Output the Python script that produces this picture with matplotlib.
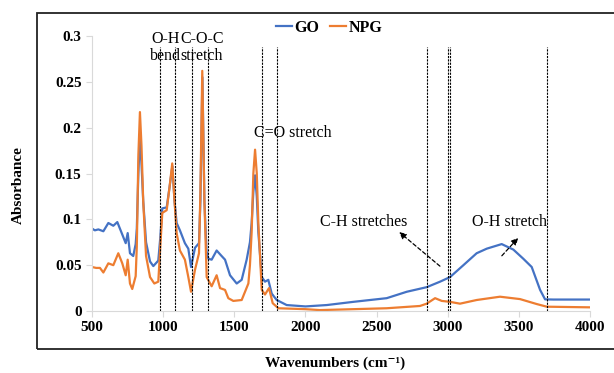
import matplotlib
matplotlib.use('Agg')
import matplotlib.pyplot as plt
from matplotlib.patches import Rectangle

# GO spectrum
go_wn = [500, 520, 545, 580, 615, 650, 678, 709, 737, 751, 767, 790, 807, 815,
         826, 837, 848, 860, 880, 908, 931, 966, 980, 994, 1025, 1045, 1065,
         1080, 1095, 1118, 1153, 1177, 1196, 1224, 1252, 1262, 1276, 1290, 1305,
         1318, 1341, 1376, 1411, 1435, 1470, 1517, 1552, 1587, 1610, 1622, 1634,
         1646, 1658, 1669, 1693, 1716, 1739, 1763, 1798, 1868, 2000, 2150, 2337,
         2571, 2712, 2852, 2946, 3016, 3110, 3203, 3274, 3379, 3461, 3531, 3590,
         3649, 3684, 3742, 4000]
go_abs = [0.090, 0.088, 0.089, 0.087, 0.096, 0.093, 0.097, 0.085, 0.074, 0.085,
          0.063, 0.060, 0.073, 0.090, 0.150, 0.190, 0.160, 0.120, 0.075, 0.054,
          0.049, 0.055, 0.080, 0.112, 0.113, 0.135, 0.158, 0.120, 0.096, 0.088,
          0.074, 0.068, 0.048, 0.069, 0.074, 0.120, 0.255, 0.120, 0.065, 0.057,
          0.056, 0.066, 0.060, 0.056, 0.039, 0.030, 0.034, 0.056, 0.075, 0.096,
          0.130, 0.148, 0.125, 0.086, 0.037, 0.032, 0.034, 0.019, 0.012, 0.0065,
          0.005, 0.0065, 0.010, 0.014, 0.021, 0.026, 0.032, 0.037, 0.050, 0.063,
          0.068, 0.073, 0.067, 0.057, 0.048, 0.023, 0.0127, 0.0125, 0.0125]

# NPG spectrum
npg_wn = [500, 530, 556, 580, 615, 650, 685, 713, 737, 751, 767, 783, 807, 815,
          826, 837, 848, 860, 880, 908, 938, 966, 980, 994, 1025, 1045, 1064,
          1080, 1095, 1118, 1153, 1177, 1196, 1224, 1252, 1262, 1275, 1290, 1306,
          1341, 1376, 1400, 1435, 1458, 1493, 1552, 1599, 1610, 1622, 1634, 1646,
          1658, 1669, 1693, 1716, 1744, 1770, 1810, 2000, 2102, 2337, 2571, 2805,
          2852, 2911, 2958, 3016, 3086, 3203, 3367, 3508, 3625, 3696, 4000]
npg_abs = [0.048, 0.047, 0.047, 0.042, 0.052, 0.050, 0.063, 0.052, 0.039, 0.056,
           0.030, 0.024, 0.038, 0.070, 0.170, 0.217, 0.180, 0.120, 0.060, 0.037,
           0.030, 0.032, 0.070, 0.107, 0.110, 0.135, 0.161, 0.120, 0.085, 0.066,
           0.056, 0.037, 0.021, 0.045, 0.063, 0.130, 0.262, 0.120, 0.037, 0.027,
           0.039, 0.025, 0.023, 0.014, 0.011, 0.012, 0.030, 0.050, 0.086, 0.150,
           0.176, 0.150, 0.096, 0.023, 0.018, 0.025, 0.0085, 0.003, 0.002, 0.001,
           0.002, 0.003, 0.0055, 0.008, 0.014, 0.011, 0.010, 0.008, 0.012, 0.0156,
           0.013, 0.0076, 0.0047, 0.004]

# band markers
band_lines = [978, 1081, 1200, 1318, 1697, 1800, 2857, 3002, 3014, 3696]

plt.rcParams['font.family'] = ['Liberation Serif', 'DejaVu Serif']

fig = plt.figure(figsize=(6.14, 3.73), dpi=100)
ax = fig.add_axes([0.1498, 0.1662, 0.8112, 0.7373])

# outer frame, right side runs off the image
fig.patches.append(Rectangle((37 / 614, 1 - 349 / 373), 1.5, 336 / 373,
                             transform=fig.transFigure, fill=False,
                             edgecolor='#222222', linewidth=1.3))

ax.plot(go_wn, go_abs, color='#4472C4', lw=1.6, label='GO')
ax.plot(npg_wn, npg_abs, color='#ED7D31', lw=1.6, label='NPG')

for wn in band_lines:
    ax.plot([wn, wn], [0, 0.288], color='black', lw=0.8, ls=(0, (2, 1)))

ax.set_xlim(500, 4000)
ax.set_ylim(0, 0.3)
ax.set_xticks(range(500, 4001, 500))
ax.set_yticks([0, 0.05, 0.1, 0.15, 0.2, 0.25, 0.3])
ax.set_yticklabels(['0', '0.05', '0.1', '0.15', '0.2', '0.25', '0.3'])
for s in ['top', 'right']:
    ax.spines[s].set_visible(False)
for s in ['left', 'bottom']:
    ax.spines[s].set_color('#D9D9D9')
ax.tick_params(colors='#D9D9D9', length=4, labelcolor='black', labelsize=11)
for lbl in ax.get_xticklabels() + ax.get_yticklabels():
    lbl.set_fontweight('bold')

fig.text(18 / 614, 1 - 185 / 373, 'Absorbance', rotation=90, ha='center',
         va='center', fontsize=11, fontweight='bold')
fig.text(335 / 614, 1 - 363 / 373, 'Wavenumbers (cm⁻¹)',
         ha='center', va='center', fontsize=11, fontweight='bold')

ax.legend(loc='center', bbox_to_anchor=(329 / 614, 1 - 28 / 373),
          bbox_transform=fig.transFigure, ncol=2, frameon=False,
          handlelength=1.0, handletextpad=0.15, columnspacing=0.7,
          prop={'weight': 'bold', 'size': 11.5})

ax.text(1017, 0.305, 'O-H\nbend', ha='center', va='top', fontsize=11.5,
        linespacing=1.05)
ax.text(1273, 0.305, 'C-O-C\nstretch', ha='center', va='top', fontsize=11.5,
        linespacing=1.05)
ax.text(1641, 0.194, 'C=O stretch', ha='left', va='center', fontsize=11.5)
ax.text(2102, 0.0974, 'C-H stretches', ha='left', va='center', fontsize=11.5)
ax.text(3431, 0.0974, 'O-H stretch', ha='center', va='center', fontsize=11.5)

ax.annotate('', xy=(2644, 0.088), xytext=(2960, 0.047),
            arrowprops=dict(arrowstyle='-|>', color='black', lw=0.9,
                            ls=(0, (3, 2)), mutation_scale=10))
ax.annotate('', xy=(3508, 0.082), xytext=(3367, 0.058),
            arrowprops=dict(arrowstyle='-|>', color='black', lw=0.9,
                            ls=(0, (3, 2)), mutation_scale=10))

fig.savefig('out.png', dpi=100)
